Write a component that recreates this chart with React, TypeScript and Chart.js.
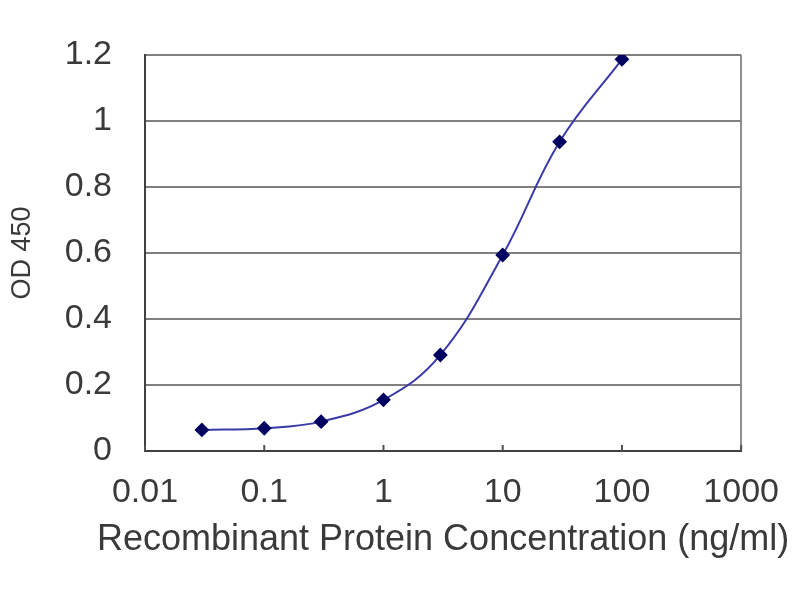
import { useEffect, useRef } from "react";
import { Chart, registerables } from "chart.js";

Chart.register(...registerables);

// concentrations (ng/ml) and measured OD 450
const concentrations = [0.03, 0.1, 0.3, 1, 3, 10, 30, 100];
const od450 = [0.064, 0.069, 0.089, 0.155, 0.291, 0.594, 0.937, 1.187];
const xDecades = [0.01, 0.1, 1, 10, 100, 1000];
const xTitle = "Recombinant Protein Concentration (ng/ml)";

const FONT = "'Liberation Sans', Arial, sans-serif";
const TEXT = "#3a3a3a";

// inside tick marks on the x axis + an x title that may be wider than the plot
// (Chart.js squeezes its own axis title to the plot width)
const xAxisExtras = {
  id: "xAxisExtras",
  afterDraw(chart: any) {
    const x = chart.scales.x;
    const { bottom, left, right } = chart.chartArea;
    const ctx = chart.ctx;
    ctx.save();
    ctx.strokeStyle = "#505050";
    ctx.lineWidth = 2;
    xDecades.forEach((v) => {
      const px = x.getPixelForValue(v);
      ctx.beginPath();
      ctx.moveTo(px, bottom - 6);
      ctx.lineTo(px, bottom);
      ctx.stroke();
    });
    ctx.fillStyle = TEXT;
    ctx.font = `36px ${FONT}`;
    ctx.textAlign = "center";
    ctx.textBaseline = "middle";
    ctx.fillText(xTitle, (left + right) / 2, x.bottom - 60);
    ctx.restore();
  },
};

export default function App() {
  const ref = useRef<HTMLCanvasElement | null>(null);

  useEffect(() => {
    if (!ref.current) return;
    const chart = new Chart(ref.current, {
      type: "line",
      data: {
        datasets: [
          {
            data: concentrations.map((c, i) => ({ x: c, y: od450[i] })),
            borderColor: "#3a3aa8",
            borderWidth: 2,
            backgroundColor: "#000060",
            pointBackgroundColor: "#000060",
            pointBorderColor: "#000060",
            pointStyle: "rectRot",
            pointRadius: 6,
            tension: 0.4,
            fill: false,
          },
        ],
      },
      options: {
        animation: false,
        responsive: false,
        layout: { padding: { top: 55, right: 57, left: 0, bottom: 0 } },
        plugins: { legend: { display: false }, tooltip: { enabled: false } },
        scales: {
          x: {
            type: "logarithmic",
            min: 0.01,
            max: 1000,
            afterFit: (s: any) => {
              s.height = 149;
            },
            afterBuildTicks: (s: any) => {
              s.ticks = xDecades.map((v) => ({ value: v }));
            },
            ticks: {
              autoSkip: false,
              maxRotation: 0,
              padding: 21,
              color: TEXT,
              font: { family: FONT, size: 34 },
              callback: (v: any) => String(v),
            },
            grid: {
              drawTicks: false,
              color: (ctx: any) => (ctx.tick && ctx.tick.value === 1000 ? "#909090" : "transparent"),
              lineWidth: 2,
            },
            border: { display: true, color: "#404040", width: 2 },
          },
          y: {
            min: 0,
            max: 1.2,
            afterFit: (s: any) => {
              s.width = 145;
            },
            ticks: {
              stepSize: 0.2,
              padding: 33,
              color: TEXT,
              font: { family: FONT, size: 34 },
              callback: (v: any) => String(Math.round(Number(v) * 10) / 10),
            },
            grid: { drawTicks: false, color: "#808080", lineWidth: 2 },
            border: { display: true, color: "#404040", width: 2 },
            title: {
              display: true,
              text: "OD 450",
              color: TEXT,
              font: { family: FONT, size: 27 },
              padding: { top: 6, bottom: 0 },
            },
          },
        },
      },
      plugins: [xAxisExtras],
    });
    return () => chart.destroy();
  }, []);

  return (
    <div style={{ position: "absolute", left: 0, top: 0, width: 800, height: 600, background: "#fff" }}>
      <canvas ref={ref} width={800} height={600} />
    </div>
  );
}
